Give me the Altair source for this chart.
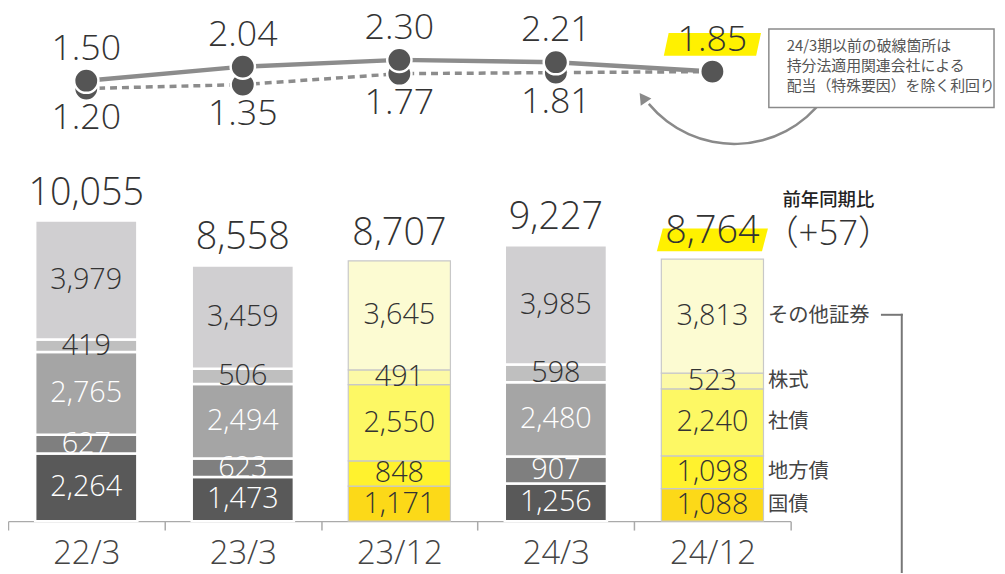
import altair as alt
import pandas as pd

# ---------------- data ----------------
categories = ["22/3", "23/3", "23/12", "24/3", "24/12"]
period_kind = ["full", "full", "interim", "full", "interim"]
segments = ["国債", "地方債", "社債", "株式", "その他証券"]
jgb = [2264, 1473, 1171, 1256, 1088]
municipal = [627, 623, 848, 907, 1098]
corporate = [2765, 2494, 2550, 2480, 2240]
stocks = [419, 506, 491, 598, 523]
other = [3979, 3459, 3645, 3985, 3813]
totals = [10055, 8558, 8707, 9227, 8764]
yield_total = [1.50, 2.04, 2.30, 2.21, 1.85]
yield_excl = [1.20, 1.35, 1.77, 1.81, 1.85]
note_lines = ["24/3期以前の破線箇所は", "持分法適用関連会社による", "配当（特殊要因）を除く利回り"]
yoy_title = "前年同期比"
yoy_value = "（+57）"

gray_colors = ["#595959", "#7f7f7f", "#a5a5a5", "#bfbfbf", "#d0cfd1"]
yellow_colors = ["#fcd918", "#fff22e", "#fdf864", "#fcf9a6", "#fcfbd2"]

FJ = "Noto Sans CJK JP"
FN = "Open Sans, Noto Sans CJK JP"
NW = 300
TXT = "#333333"

# ---------------- tables ----------------
series = [jgb, municipal, corporate, stocks, other]
rows = []
for i, c in enumerate(categories):
    base = 0
    for j, s in enumerate(segments):
        v = series[j][i]
        kind = period_kind[i]
        rows.append(dict(
            cat=c, seg=s, kind=kind, value=v, y0=base, y1=base + v,
            mid=base + v / 2, label=f"{v:,}", key=f"{kind}|{s}",
            tcolor=("white" if (kind == "full" and j < 3) else TXT),
            strokec=("white" if kind == "full" else "#c8c8c8"),
            sw=(2.5 if kind == "full" else 1.2),
        ))
        base += v
seg_df = pd.DataFrame(rows)
keys = [f"full|{s}" for s in segments] + [f"interim|{s}" for s in segments]
key_colors = gray_colors + yellow_colors

tot_df = pd.DataFrame(dict(cat=categories, total=totals,
                           label=[f"{t:,}" for t in totals]))
yld_df = pd.DataFrame(dict(cat=categories, ytot=yield_total, yexc=yield_excl,
                           ltot=[f"{v:.2f}" for v in yield_total],
                           lexc=[f"{v:.2f}" for v in yield_excl]))
one = pd.DataFrame({"a": [0]})

# ---------------- scales / encodings ----------------
xaxis = alt.Axis(title=None, labelFontSize=33, labelColor="#444444", labelFont=FN,
                 labelFontWeight=NW,
                 labelAngle=0, domainColor="#aaaaaa", domainWidth=1.5,
                 tickColor="#aaaaaa", tickWidth=1.5, tickSize=9, tickBand="extent",
                 labelPadding=8, grid=False)
xenc = alt.X("cat:N", sort=categories,
             scale=alt.Scale(domain=categories, paddingInner=0, paddingOuter=0),
             axis=xaxis)
ybar = alt.Scale(domain=[0, 10055], range=[515, 212], nice=False, zero=True)
yline = alt.Scale(domain=[1.0, 2.5], range=[84.125, 44.75], nice=False, zero=False)

bars = alt.Chart(seg_df).mark_bar(size=103).encode(
    x=xenc,
    y=alt.Y("y0:Q", scale=ybar, axis=None),
    y2="y1:Q",
    color=alt.Color("key:N", scale=alt.Scale(domain=keys, range=key_colors), legend=None),
    stroke=alt.Stroke("strokec:N", scale=None),
    strokeWidth=alt.StrokeWidth("sw:Q", scale=None),
)

seg_labels = alt.Chart(seg_df).mark_text(fontSize=29, font=FN, fontWeight=NW,
                                         baseline="middle").encode(
    x=xenc,
    y=alt.Y("mid:Q", scale=ybar, axis=None),
    text="label:N",
    color=alt.Color("tcolor:N", scale=None),
)

legend_labels = alt.Chart(seg_df).transform_filter(
    alt.datum.cat == categories[-1]
).mark_text(fontSize=20.5, font=FJ, align="left", baseline="middle", dx=56,
            color="#444444").encode(
    x=xenc,
    y=alt.Y("mid:Q", scale=ybar, axis=None),
    text="seg:N",
)

hl_path = "M -1 0.205 L -0.893 -0.205 L 1 -0.205 L 0.893 0.205 Z"
total_hl = alt.Chart(tot_df).transform_filter(
    alt.datum.cat == categories[-1]
).mark_point(shape=hl_path, size=12544, filled=True, fill="#fff100",
             strokeWidth=0, opacity=1, yOffset=-19.5).encode(
    x=xenc,
    y=alt.Y("total:Q", scale=ybar, axis=None),
)

total_labels = alt.Chart(tot_df).mark_text(fontSize=38, font=FN, fontWeight=NW,
                                           dy=-27, color=TXT).encode(
    x=xenc,
    y=alt.Y("total:Q", scale=ybar, axis=None),
    text="label:N",
)

yoy_t = alt.Chart(one).mark_text(fontSize=18.5, font=FJ, fontWeight=500, color="#222222").encode(
    x=alt.value(827), y=alt.value(191), text=alt.value(yoy_title))
yoy_v = alt.Chart(one).mark_text(fontSize=35, font=FN, fontWeight=NW, align="left",
                                 color=TXT).encode(
    x=alt.value(762), y=alt.value(226), text=alt.value(yoy_value))

# line part
line_exc = alt.Chart(yld_df).mark_line(strokeDash=[7, 5], strokeWidth=3.5, color="#8c8c8c").encode(
    x=xenc, y=alt.Y("yexc:Q", scale=yline, axis=None))
line_tot = alt.Chart(yld_df).mark_line(strokeWidth=4.5, color="#8c8c8c").encode(
    x=xenc, y=alt.Y("ytot:Q", scale=yline, axis=None))
dots_exc = alt.Chart(yld_df).mark_circle(size=600, fill="#555555", stroke="white",
                                         strokeWidth=2.5, opacity=1).encode(
    x=xenc, y=alt.Y("yexc:Q", scale=yline, axis=None))
dots_tot = alt.Chart(yld_df).mark_circle(size=600, fill="#555555", stroke="white",
                                         strokeWidth=2.5, opacity=1).encode(
    x=xenc, y=alt.Y("ytot:Q", scale=yline, axis=None))

hl2_path = "M -1 0.235 L -0.9 -0.235 L 1 -0.235 L 0.9 0.235 Z"
yld_hl = alt.Chart(yld_df).transform_filter(
    alt.datum.cat == categories[-1]
).mark_point(shape=hl2_path, size=9604, filled=True, fill="#fff100",
             strokeWidth=0, opacity=1, yOffset=-27.5).encode(
    x=xenc, y=alt.Y("ytot:Q", scale=yline, axis=None))

lab_tot = alt.Chart(yld_df).mark_text(fontSize=36, font=FN, fontWeight=NW, dy=-32,
                                      color=TXT).encode(
    x=xenc, y=alt.Y("ytot:Q", scale=yline, axis=None), text="ltot:N")
lab_exc = alt.Chart(yld_df).transform_filter(
    alt.datum.yexc != alt.datum.ytot
).mark_text(fontSize=36, font=FN, fontWeight=NW, dy=30, color=TXT).encode(
    x=xenc, y=alt.Y("yexc:Q", scale=yline, axis=None), text="lexc:N")

# annotation: curved arrow, note box, bracket
arc = alt.Chart(one).mark_arc(radius=113, radius2=110.5, theta=2.2, theta2=4.02,
                              color="#8a8a8a").encode(x=alt.value(732), y=alt.value(23))
arrow = alt.Chart(one).mark_point(shape="triangle-up", size=170, filled=True,
                                  color="#8a8a8a", opacity=1, angle=325).encode(
    x=alt.value(640), y=alt.value(88))
box = alt.Chart(one).mark_rect(fill="white", stroke="#8a8a8a", strokeWidth=1.5).encode(
    x=alt.value(767), x2=alt.value(994), y=alt.value(19), y2=alt.value(98))
box_text = alt.Chart(one).mark_text(fontSize=15, font=FJ, align="left", baseline="top",
                                    lineHeight=20, color="#555555").encode(
    x=alt.value(785), y=alt.value(29), text=alt.value(note_lines))
br_h = alt.Chart(one).mark_rule(color="#777777", strokeWidth=2).encode(
    x=alt.value(880), x2=alt.value(902), y=alt.value(307))
br_v = alt.Chart(one).mark_rule(color="#777777", strokeWidth=2).encode(
    x=alt.value(901), y=alt.value(306), y2=alt.value(600))

chart = alt.layer(
    bars, seg_labels, legend_labels, total_hl, total_labels, yoy_t, yoy_v,
    line_exc, line_tot, dots_exc, dots_tot, yld_hl, lab_tot, lab_exc,
    arc, arrow, box, box_text, br_h, br_v,
).resolve_scale(y="independent").properties(
    width=789, height=515, autosize="none",
    padding={"left": 0, "top": 0, "right": 208, "bottom": 50},
    background="white",
).configure_view(stroke=None)

chart.save("out.html", embed_options={"renderer": "svg", "actions": False})
